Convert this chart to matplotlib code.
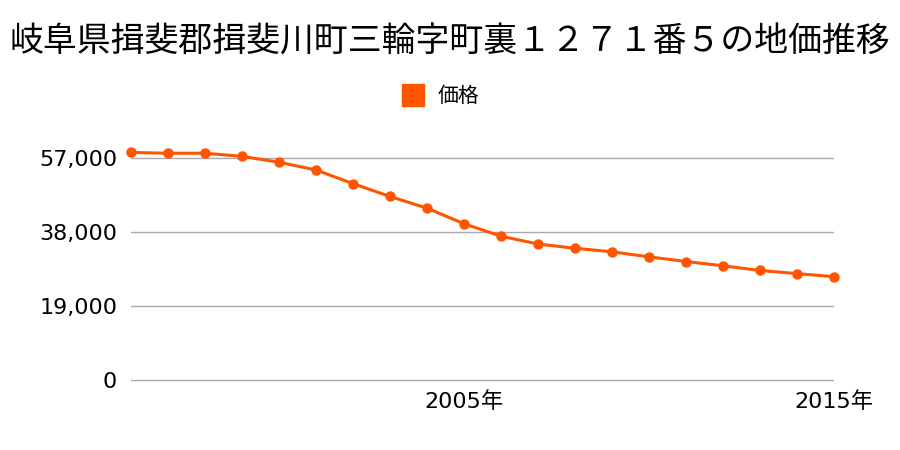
import matplotlib
matplotlib.use("Agg")
import matplotlib.pyplot as plt
from matplotlib.lines import Line2D

plt.rcParams['font.family'] = ['Noto Sans CJK JP', 'DejaVu Sans']

TITLE = "岐阜県揖斐郡揖斐川町三輪字町裏１２７１番５の地価推移"
years = list(range(1996, 2016))
prices = [58500, 58300, 58300, 57500, 56000, 54000, 50500, 47200, 44200, 40200,
          37000, 35000, 33900, 33000, 31700, 30500, 29400, 28200, 27400, 26600]
yticks = [0, 19000, 38000, 57000]
xticks = [2005, 2015]
xticklabels = ["2005年", "2015年"]

COLOR = "#ff5500"
TICK_FONT = ['DejaVu Sans', 'Noto Sans CJK JP']

# axes box in pixels: 0 -> y 380.3, 57000 -> y 158
px_per_unit = (380.3 - 158.3) / 57000
ymin, ymax = -600, 62000
bottom_px = 380.3 + (0 - ymin) * px_per_unit
top_px = 380.3 - ymax * px_per_unit

fig = plt.figure(figsize=(9, 4.5), dpi=100)
ax = fig.add_axes([131 / 900, (450 - bottom_px) / 450, (834 - 131) / 900, (bottom_px - top_px) / 450])

ax.plot(years, prices, color=COLOR, linewidth=2.2, marker="o", markersize=6.5, clip_on=False, zorder=3)

ax.set_xlim(1996, 2015)
ax.set_ylim(ymin, ymax)
ax.set_yticks(yticks)
ax.set_yticklabels([f"{v:,}" for v in yticks], family=TICK_FONT, fontsize=16)
ax.set_xticks(xticks)
ax.set_xticklabels(xticklabels, family=TICK_FONT, fontsize=16)
ax.grid(axis="y", color="#aaaaaa", linewidth=1)
ax.set_axisbelow(True)
for s in ax.spines.values():
    s.set_visible(False)
ax.tick_params(axis="y", length=0, pad=10)
ax.tick_params(axis="x", length=0, pad=6)

fig.text(0.5, 1 - 42 / 450, TITLE, ha="center", va="center", fontsize=24.4)

handle = Line2D([], [], color=COLOR, marker="s", linestyle="none", markersize=16.5)
fig.legend([handle], ["価格"], loc="center", bbox_to_anchor=(436 / 900, 1 - 96 / 450),
           frameon=False, fontsize=15, handletextpad=0.2)

fig.savefig("out.png", dpi=100)
